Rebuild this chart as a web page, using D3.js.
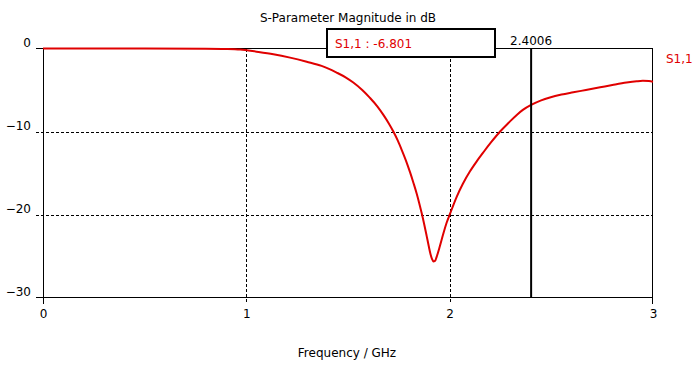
<!DOCTYPE html>
<html><head><meta charset="utf-8">
<script src="https://cdn.jsdelivr.net/npm/d3@7"></script>
<style>body{margin:0;background:#fff}svg{display:block}text{font-family:"DejaVu Sans",sans-serif;font-size:12px}</style>
</head><body><svg id="c" width="700" height="368"></svg>
<script>
const freq = [0, 0.5, 0.8, 0.9, 0.97, 1.05, 1.133, 1.215, 1.297, 1.37, 1.444, 1.49, 1.526, 1.57, 1.608, 1.645, 1.674, 1.7, 1.723, 1.745, 1.764, 1.785, 1.805, 1.822, 1.838, 1.85, 1.862, 1.875, 1.887, 1.897, 1.905, 1.913, 1.920, 1.928, 1.936, 1.952, 1.969, 1.985, 2.002, 2.034, 2.065, 2.1, 2.133, 2.166, 2.207, 2.248, 2.29, 2.33, 2.36, 2.4006, 2.45, 2.493, 2.55, 2.608, 2.67, 2.74, 2.8, 2.87, 2.92, 2.95, 2.98, 3.0];
const s11 = [0, 0, -0.02, -0.05, -0.12, -0.38, -0.69, -1.1, -1.6, -2.1, -2.9, -3.5, -4.1, -5.0, -5.95, -7.0, -8.0, -9.0, -10.0, -11.1, -12.2, -13.5, -14.9, -16.2, -17.5, -18.6, -19.8, -21.2, -22.6, -23.8, -24.7, -25.35, -25.65, -25.6, -25.1, -23.8, -22.3, -21.0, -19.9, -17.9, -16.3, -14.8, -13.6, -12.5, -11.2, -10.0, -8.95, -8.0, -7.4, -6.801, -6.25, -5.9, -5.55, -5.28, -5.0, -4.68, -4.4, -4.1, -3.95, -3.9, -3.92, -4.0];
const xTicks = [0, 1, 2, 3];
const yTicks = [0, -10, -20, -30];
const markerFreq = 2.4006;
const markerValue = -6.801;
const titleText = "S-Parameter Magnitude in dB";
const xLabel = "Frequency / GHz";
const seriesName = "S1,1";

const svg = d3.select("#c");
const x = d3.scaleLinear().domain([0, 3]).range([43, 653]);
const y = d3.scaleLinear().domain([0, -30]).range([48.5, 297.5]);
const red = "#e00000";

// dashed grid
const grid = svg.append("g").attr("stroke", "#000").attr("stroke-width", 1).attr("stroke-dasharray", "3,2").attr("shape-rendering", "crispEdges");
yTicks.filter(t => t !== 0 && t !== -30).forEach(t => {
  grid.append("line").attr("x1", 36).attr("x2", x(3)).attr("y1", Math.round(y(t)) + 0.5).attr("y2", Math.round(y(t)) + 0.5);
});
xTicks.filter(t => t !== 0 && t !== 3).forEach(t => {
  grid.append("line").attr("x1", Math.round(x(t)) + 0.5).attr("x2", Math.round(x(t)) + 0.5).attr("y1", y(0)).attr("y2", 304);
});

// frame
const fr = svg.append("g").attr("stroke", "#000").attr("stroke-width", 1).attr("shape-rendering", "crispEdges").attr("fill", "none");
fr.append("rect").attr("x", 43.5).attr("y", 48.5).attr("width", 609).attr("height", 249);
fr.append("line").attr("x1", 36).attr("x2", 43).attr("y1", 48.5).attr("y2", 48.5);
fr.append("line").attr("x1", 36).attr("x2", 43).attr("y1", 297.5).attr("y2", 297.5);
fr.append("line").attr("x1", 43.5).attr("x2", 43.5).attr("y1", 297).attr("y2", 304);
fr.append("line").attr("x1", 652.5).attr("x2", 652.5).attr("y1", 297).attr("y2", 304);

// axes labels via d3 axes (text only)
const xa = svg.append("g").attr("transform", "translate(0,297)").call(d3.axisBottom(x).tickValues(xTicks).tickFormat(d3.format("d")).tickSize(0).tickPadding(12));
xa.select(".domain").remove();
xa.selectAll("text").attr("font-family", "DejaVu Sans").attr("font-size", "12px").attr("fill", "#000");
const ya = svg.append("g").attr("transform", "translate(31,0)").call(d3.axisLeft(y).tickValues(yTicks).tickFormat(d3.format("d")).tickSize(0).tickPadding(0));
ya.select(".domain").remove();
ya.selectAll("text").attr("font-family", "DejaVu Sans").attr("font-size", "12px").attr("fill", "#000").attr("dy", "-0.15em");

// curve
const line = d3.line().x((d, i) => x(freq[i])).y(d => y(d)).curve(d3.curveMonotoneX);
svg.append("path").datum(s11).attr("d", line).attr("fill", "none").attr("stroke", red).attr("stroke-width", 2).attr("stroke-linejoin", "round");

// marker line
svg.append("line").attr("x1", x(markerFreq)).attr("x2", x(markerFreq)).attr("y1", y(0)).attr("y2", y(-30)).attr("stroke", "#000").attr("stroke-width", 2);
svg.append("text").attr("x", x(markerFreq)).attr("y", 45).attr("text-anchor", "middle").text(markerFreq.toFixed(4));

// marker box
svg.append("rect").attr("x", 327).attr("y", 29).attr("width", 168).attr("height", 28).attr("fill", "#fff").attr("stroke", "#000").attr("stroke-width", 2);
svg.append("text").attr("x", 335).attr("y", 48).attr("fill", red).attr("font-size", "12.5px").text(seriesName + " : " + markerValue.toFixed(3));

// title, labels
svg.append("text").attr("x", 348).attr("y", 22).attr("text-anchor", "middle").text(titleText);
svg.append("text").attr("x", 347).attr("y", 357).attr("text-anchor", "middle").text(xLabel);
svg.append("text").attr("x", 666).attr("y", 63).attr("fill", red).text(seriesName);
</script></body></html>
